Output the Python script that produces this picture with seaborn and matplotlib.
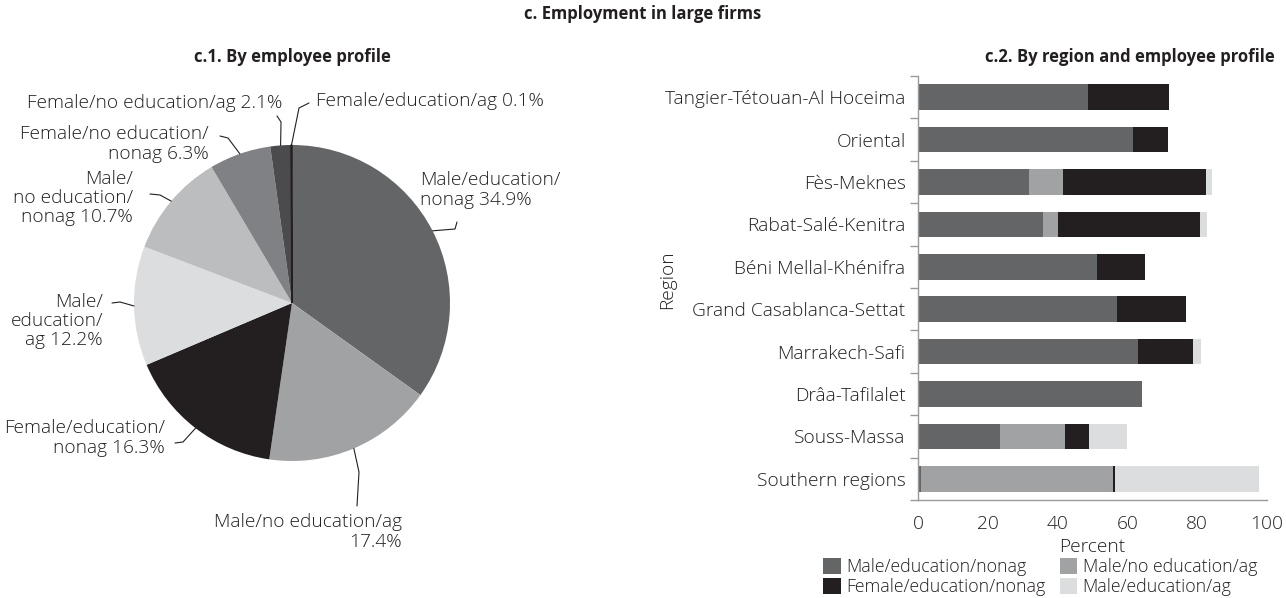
import numpy as np
import pandas as pd
import matplotlib
matplotlib.use("Agg")
import matplotlib.pyplot as plt
from matplotlib.patches import Patch
from matplotlib.lines import Line2D
import seaborn as sns

# ---- data ---------------------------------------------------------------
pie_labels = [
    "Male/education/\nnonag {}%",
    "Male/no education/ag\n{}%",
    "Female/education/\nnonag {}%",
    "Male/\neducation/\nag {}%",
    "Male/\nno education/\nnonag {}%",
    "Female/no education/\nnonag {}%",
    "Female/no education/ag {}%",
    "Female/education/ag {}%",
]
pie_values = [34.9, 17.4, 16.3, 12.2, 10.7, 6.3, 2.1, 0.1]

regions = [
    "Tangier-Tétouan-Al Hoceima", "Oriental", "Fès-Meknes", "Rabat-Salé-Kenitra",
    "Béni Mellal-Khénifra", "Grand Casablanca-Settat", "Marrakech-Safi",
    "Drâa-Tafilalet", "Souss-Massa", "Southern regions",
]
series_names = ["Male/education/nonag", "Male/no education/ag",
                "Female/education/nonag", "Male/education/ag"]
male_edu_nonag = [48.6, 61.7, 31.9, 35.7, 51.2, 57.1, 63.1, 64.1, 23.4, 1.0]
male_noedu_ag = [0.0, 0.0, 9.7, 4.4, 0.0, 0.0, 0.0, 0.0, 18.6, 54.8]
female_edu_nonag = [23.4, 9.8, 40.9, 40.8, 13.8, 19.7, 15.8, 0.0, 7.0, 0.7]
male_edu_ag = [0.0, 0.0, 1.7, 1.9, 0.0, 0.0, 2.3, 0.0, 11.0, 41.1]
x_ticks = [0, 20, 40, 60, 80, 100]

# ---- style --------------------------------------------------------------
pie_colors = ["#646567", "#a1a2a4", "#231f20", "#dcdddf",
              "#bcbdbf", "#808184", "#4b4b4d", "#231f20"]
bar_colors = ["#646567", "#a1a2a4", "#231f20", "#dcdddf"]
TXT = "#231f20"
AXC = "#9a9a9a"

sns.set_theme(style="white")
plt.rcParams["font.family"] = ["Open Sans", "DejaVu Sans"]
plt.rcParams["font.weight"] = "light"
plt.rcParams["text.color"] = TXT
plt.rcParams["axes.labelcolor"] = TXT
plt.rcParams["xtick.color"] = TXT
plt.rcParams["ytick.color"] = TXT
FS = 13.8
LFS = 12.8
HFS = 12

W, H = 1286, 598
fig = plt.figure(figsize=(W / 100, H / 100), dpi=100)


def fp(x, y):
    """pixel position (from top-left) -> figure fraction"""
    return x / W, 1 - y / H


# ---- headings -----------------------------------------------------------
fig.text(*fp(643, 14), "c. Employment in large firms", ha="center", va="center",
         fontsize=HFS, fontweight="bold")
fig.text(*fp(292, 57), "c.1. By employee profile", ha="center", va="center",
         fontsize=HFS, fontweight="bold")
fig.text(*fp(1275, 57), "c.2. By region and employee profile", ha="right",
         va="center", fontsize=HFS, fontweight="bold")

# ---- pie ----------------------------------------------------------------
cx, cy, r = 292, 303, 158
ax_pie = fig.add_axes([(cx - r) / W, (H - cy - r) / H, 2 * r / W, 2 * r / H])
wedges, _ = ax_pie.pie(pie_values, colors=pie_colors, startangle=90,
                       counterclock=False, radius=1,
                       wedgeprops=dict(linewidth=0))
wedges[-1].set_edgecolor(pie_colors[-1])
wedges[-1].set_linewidth(1.0)
for w in wedges:
    w.set_clip_on(False)
ax_pie.set_xlim(-1, 1)
ax_pie.set_ylim(-1, 1)
ax_pie.set_aspect("equal")
ax_pie.axis("off")

# label text anchor (px), alignment, leader start and elbow (px)
label_layout = [
    dict(xy=(420, 190), ha="left", lead=[(457, 222), (455, 229)]),
    dict(xy=(402, 532), ha="right", lead=[(357, 506), (359, 472)]),
    dict(xy=(165, 438), ha="right", lead=[(175, 443), (183, 442)]),
    dict(xy=(103, 321), ha="right", lead=[(112, 303), (120, 302)]),
    dict(xy=(133, 198), ha="right", lead=[(150, 194), (160, 195)]),
    dict(xy=(209, 144), ha="right", lead=[(220, 136), (228, 138)]),
    dict(xy=(282, 103), ha="right", lead=[(277, 116), (281, 122)]),
    dict(xy=(316, 101), ha="left", lead=[(309, 103), (299, 108)]),
]

for w, lab, val, lay in zip(wedges, pie_labels, pie_values, label_layout):
    fig.text(*fp(*lay["xy"]), lab.format(val), ha=lay["ha"], va="center",
             fontsize=FS, multialignment=lay["ha"], linespacing=1.08)
    mid = np.deg2rad((w.theta1 + w.theta2) / 2)
    ex, ey = cx + r * np.cos(mid), cy - r * np.sin(mid)
    pts = lay["lead"] + [(ex, ey)]
    xs, ys = zip(*[fp(px, py) for px, py in pts])
    fig.add_artist(Line2D(xs, ys, color=TXT, lw=0.8, transform=fig.transFigure))

# ---- stacked bars -------------------------------------------------------
series = [male_edu_nonag, male_noedu_ag, female_edu_nonag, male_edu_ag]
df = pd.DataFrame({"Region": regions})
cum = np.cumsum(np.array(series), axis=0)

top, bottom = 76, 500
ax = fig.add_axes([918 / W, (H - bottom) / H, 349 / W, (bottom - top) / H])
for i in range(len(series) - 1, -1, -1):
    df["value"] = cum[i]
    sns.barplot(data=df, x="value", y="Region", orient="h", color=bar_colors[i],
                saturation=1, width=0.6, linewidth=0, ax=ax)

ax.set_xlim(0, 100)
ax.set_xticks(x_ticks)
ax.set_xlabel("")
ax.set_ylabel("")
ax.tick_params(axis="x", length=6, width=1, color=AXC, labelsize=FS, pad=5)
ax.tick_params(axis="y", which="major", length=0, labelsize=FS, pad=9)
ax.set_yticks(np.arange(-0.5, len(regions)), minor=True)
ax.tick_params(axis="y", which="minor", length=6, width=1, color=AXC, left=True)
ax.set_ylim(len(regions) - 0.5, -0.5)
for s in ["top", "right"]:
    ax.spines[s].set_visible(False)
for s in ["left", "bottom"]:
    ax.spines[s].set_color(AXC)
    ax.spines[s].set_linewidth(1)

fig.text(*fp(1092, 547), "Percent", ha="center", va="center", fontsize=FS)
fig.text(*fp(667, 280), "Region", ha="center", va="center", rotation=90,
         fontsize=FS)

handles = [Patch(facecolor=c, edgecolor="none") for c in bar_colors]
order = [0, 2, 1, 3]
fig.legend([handles[k] for k in order], [series_names[k] for k in order],
           ncol=2, loc="upper left", bbox_to_anchor=fp(823, 558),
           frameon=False, fontsize=LFS, handlelength=1.0, handleheight=1.0,
           handletextpad=0.3, columnspacing=0.8, labelspacing=0.1,
           borderaxespad=0, borderpad=0)

fig.savefig("out.png", dpi=100, facecolor="white")
